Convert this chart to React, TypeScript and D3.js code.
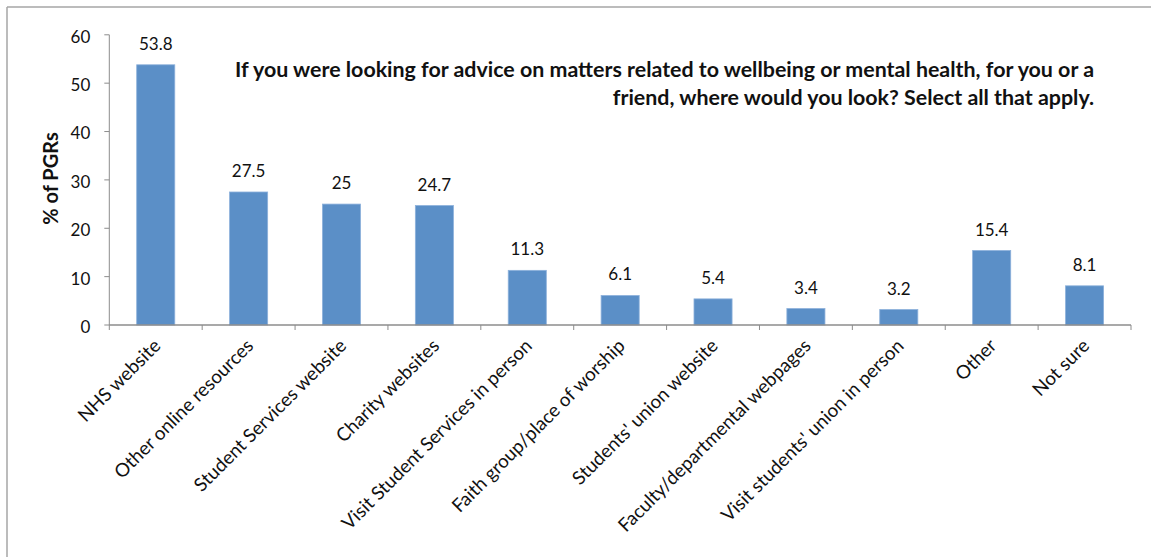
import React from "react";
import * as d3 from "d3";

const categories = [
  "NHS website",
  "Other online resources",
  "Student Services website",
  "Charity websites",
  "Visit Student Services in person",
  "Faith group/place of worship",
  "Students' union website",
  "Faculty/departmental webpages",
  "Visit students' union in person",
  "Other",
  "Not sure",
];
const values = [53.8, 27.5, 25, 24.7, 11.3, 6.1, 5.4, 3.4, 3.2, 15.4, 8.1];
const valueLabels = ["53.8", "27.5", "25", "24.7", "11.3", "6.1", "5.4", "3.4", "3.2", "15.4", "8.1"];
const yTicks = [0, 10, 20, 30, 40, 50, 60];
const titleLines = [
  "If you were looking for advice on matters related to wellbeing or mental health, for you or a",
  "friend, where would you look? Select all that apply.",
];
const yAxisTitle = "% of PGRs";

const W = 1151;
const H = 557;
const FONT = "Lato, 'Open Sans', 'DejaVu Sans', sans-serif";

export default function App() {
  const x0 = 109.3;
  const x1 = 1131;
  const yBase = 325;
  const yTop = 34.8;

  const x = d3
    .scaleBand<string>()
    .domain(categories)
    .range([x0, x1])
    .paddingInner(0.59)
    .paddingOuter(0.295);
  const y = d3.scaleLinear().domain([0, 60]).range([yBase, yTop]);
  const tickXs = d3.range(categories.length + 1).map((i) => x0 + i * ((x1 - x0) / categories.length));
  const axisColor = "#8c8c8c";

  return (
    <svg
      width={W}
      height={H}
      style={{ position: "absolute", left: 0, top: 0, background: "#fff" }}
      fontFamily={FONT}
    >
      <rect x={0} y={0} width={W} height={H} fill="#fff" />
      {/* frame */}
      <line x1={7} y1={7} x2={W} y2={7} stroke="#a6a6a6" strokeWidth={1.5} />
      <line x1={7} y1={7} x2={7} y2={H} stroke="#a6a6a6" strokeWidth={1.5} />

      {/* bars */}
      {categories.map((c, i) => (
        <rect
          key={c}
          x={x(c)}
          y={y(values[i])}
          width={x.bandwidth()}
          height={yBase - y(values[i])}
          fill="#5B8FC7"
          stroke="#8DB1DB"
          strokeWidth={0.8}
        />
      ))}

      {/* value labels */}
      {categories.map((c, i) => (
        <text
          key={"v" + c}
          x={(x(c) as number) + x.bandwidth() / 2}
          y={y(values[i]) - 15}
          textAnchor="middle"
          fontSize={17}
          fill="#111"
        >
          {valueLabels[i]}
        </text>
      ))}

      {/* y axis */}
      <line x1={x0} y1={yTop} x2={x0} y2={yBase} stroke={axisColor} strokeWidth={1} />
      {yTicks.map((t) => (
        <g key={"yt" + t}>
          <line x1={x0 - 5} y1={y(t)} x2={x0} y2={y(t)} stroke={axisColor} />
          <text x={x0 - 19} y={y(t) + 2} dy="0.35em" textAnchor="end" fontSize={17} fill="#111">
            {t}
          </text>
        </g>
      ))}

      {/* x axis */}
      <line x1={x0} y1={yBase} x2={x1} y2={yBase} stroke={axisColor} strokeWidth={1.5} />
      {tickXs.map((tx, i) => (
        <line key={"xt" + i} x1={tx} y1={yBase} x2={tx} y2={yBase + 5} stroke={axisColor} />
      ))}
      {categories.map((c) => {
        const cx = (x(c) as number) + x.bandwidth() / 2;
        return (
          <text
            key={"xl" + c}
            transform={`translate(${cx + 6},${yBase + 22}) rotate(-45)`}
            textAnchor="end"
            fontSize={18.8}
            fill="#111"
          >
            {c}
          </text>
        );
      })}

      {/* y axis title */}
      <text
        transform={`translate(57.5,178.5) rotate(-90)`}
        textAnchor="middle"
        fontSize={20}
        fontWeight="bold"
        fill="#111"
      >
        {yAxisTitle}
      </text>

      {/* chart title */}
      {titleLines.map((l, i) => (
        <text
          key={"t" + i}
          x={1094}
          y={77 + i * 28}
          textAnchor="end"
          fontSize={21.4}
          fontWeight="bold"
          fill="#111"
        >
          {l}
        </text>
      ))}
    </svg>
  );
}
